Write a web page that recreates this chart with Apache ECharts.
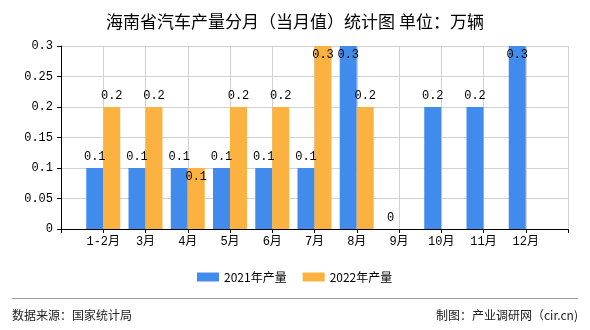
<!DOCTYPE html>
<html><head><meta charset="utf-8">
<script src="https://cdn.jsdelivr.net/npm/echarts@6/dist/echarts.min.js"></script>
<style>html,body{margin:0;padding:0;background:#fff}#c{width:590px;height:330px}</style>
</head><body><div id="c"></div>
<script>
const titleText = '海南省汽车产量分月（当月值）统计图 单位：万辆';
const categories = ['1-2月','3月','4月','5月','6月','7月','8月','9月','10月','11月','12月'];
const seriesNames = ['2021年产量','2022年产量'];
const values2021 = [0.1,0.1,0.1,0.1,0.1,0.1,0.3,0,0.2,0.2,0.3];
const values2022 = [0.2,0.2,0.1,0.2,0.2,0.3,0.2,null,null,null,null];
const yMin = 0, yMax = 0.3, yInterval = 0.05;
const sourceText = '数据来源：国家统计局';
const creditText = '制图：产业调研网（cir.cn)';

const mono = '"Liberation Mono","Noto Sans CJK SC",monospace';
const cjk = '"Noto Sans CJK SC",sans-serif';
// pad with empty slots at both ends (axis ticks at category points)
const cats = [''].concat(categories, ['']);
function build(arr, other){
  return [null].concat(arr.map((v, i) => {
    if (v === null) return null;
    // labels that would overflow the plot or collide with the neighbour's label go inside the bar top
    if (v >= yMax || (other && other[i] === v)) return {value: v, label: {position: 'insideTop', distance: 3}};
    return v;
  }), [null]);
}
const colors = ['#418bec','#fbb240'];
const chart = echarts.init(document.getElementById('c'), null, {renderer:'canvas'});
chart.setOption({
  animation: false,
  color: colors,
  title: {text: titleText, left: 'center', top: 8,
    textStyle: {fontSize: 17, fontWeight: 'normal', color: '#000', fontFamily: cjk}},
  legend: {left: 197, top: 271, padding: 0, itemWidth: 22, itemHeight: 9, itemGap: 16,
    textStyle: {fontSize: 12, color: '#000', fontFamily: cjk},
    icon: 'rect', data: seriesNames},
  grid: {left: 61, right: 22, top: 46, bottom: 101},
  xAxis: {type: 'category', data: cats, boundaryGap: false,
    axisLine: {lineStyle: {color: '#000'}},
    axisTick: {show: true, interval: 0, length: 4, lineStyle: {color: '#000'}},
    axisLabel: {interval: 0, color: '#000', fontSize: 12, margin: 7, fontFamily: mono},
    splitLine: {show: true, interval: 0, lineStyle: {color: '#d2d2d2'}}},
  yAxis: {type: 'value', min: yMin, max: yMax, interval: yInterval,
    axisLine: {show: true, lineStyle: {color: '#000'}},
    axisTick: {show: true, length: 4, lineStyle: {color: '#000'}},
    axisLabel: {color: '#000', fontSize: 12, margin: 8, fontFamily: mono},
    splitLine: {lineStyle: {color: '#d2d2d2'}}},
  series: [
    {name: seriesNames[0], type: 'bar', data: build(values2021, null), barWidth: 17, barGap: '0%',
      label: {show: true, position: 'top', color: '#000', fontSize: 12, fontFamily: mono}},
    {name: seriesNames[1], type: 'bar', data: build(values2022, values2021), barWidth: 17, barGap: '0%',
      label: {show: true, position: 'top', color: '#000', fontSize: 12, fontFamily: mono}}
  ],
  graphic: [
    {type: 'line', shape: {x1: 12, y1: 298.5, x2: 578, y2: 298.5}, style: {stroke: '#999', lineWidth: 1}},
    {type: 'text', left: 12, top: 309, style: {text: sourceText, font: '12px ' + cjk, fill: '#222'}},
    {type: 'text', right: 12, top: 309, style: {text: creditText, font: '12px ' + cjk, fill: '#222'}}
  ]
});
</script></body></html>
